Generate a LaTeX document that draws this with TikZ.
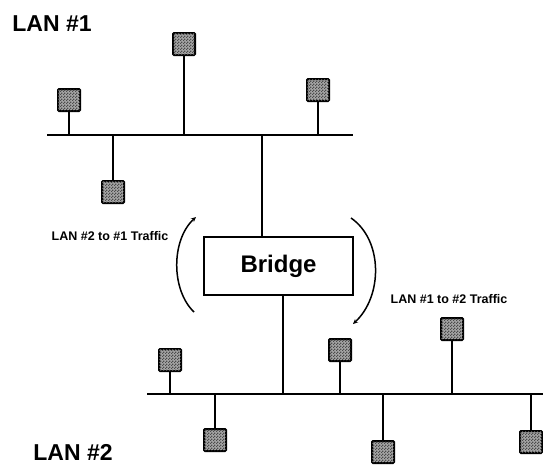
\documentclass[tikz,border=0pt]{standalone}
\usepackage{fontspec}
\setmainfont{Liberation Sans}
\usetikzlibrary{arrows.meta,patterns}
\pgfdeclarepatternformonly{finecheck}{\pgfpointorigin}{\pgfqpoint{3pt}{3pt}}{\pgfqpoint{3pt}{3pt}}{%
  \pgfpathrectangle{\pgfpointorigin}{\pgfqpoint{1.5pt}{1.5pt}}%
  \pgfpathrectangle{\pgfqpoint{1.5pt}{1.5pt}}{\pgfqpoint{1.5pt}{1.5pt}}%
  \pgfusepath{fill}}
\begin{document}
\begin{tikzpicture}[x=1pt,y=-1pt,
  station/.style={draw=black,line width=2pt,fill=black!35,postaction={pattern=finecheck,pattern color=black!70},
    minimum width=22pt,minimum height=22pt,inner sep=0pt,rounded corners=1pt},
  wire/.style={line width=1.4pt},
  bigtext/.style={font=\fontsize{23}{26}\selectfont\bfseries,inner sep=0pt},
  smalltext/.style={font=\fontsize{12.5}{14}\selectfont\bfseries,inner sep=0pt},
  flow/.style={line width=1.5pt,-{Stealth[length=5pt,width=4.5pt]}}]
\useasboundingbox (0,0) rectangle (543,464);
% labels
\node[bigtext] (lan1) at (52,24) {LAN \#1};
\node[bigtext] (lan2) at (73,452) {LAN \#2};
\node[smalltext] (t21) at (110,236) {LAN \#2 to \#1 Traffic};
\node[smalltext] (t12) at (449,299) {LAN \#1 to \#2 Traffic};
% bus coordinates
\coordinate (b1L) at (47,135);
\coordinate (b1R) at (353,135);
\coordinate (b2L) at (147,394);
\coordinate (b2R) at (543,394);
\draw[wire] (b1L) -- (b1R);
\draw[wire] (b2L) -- (b2R);
% bridge
\node[draw,line width=1.4pt,minimum width=149pt,minimum height=58pt,inner sep=0pt,
  font=\fontsize{24}{26}\selectfont\bfseries] (bridge) at (278.5,266) {Bridge};
\coordinate (tap1) at (262,135);
\coordinate (tap2) at (283,394);
\draw[wire] (tap1) -- (tap1 |- bridge.north);
\draw[wire] (tap2 |- bridge.south) -- (tap2);
% LAN 1 stations
\node[station] (s1) at (69,100) {};
\node[station] (s2) at (184,44) {};
\node[station] (s3) at (318,90) {};
\node[station] (s4) at (113,192) {};
\foreach \s in {s1,s2,s3} \draw[wire] (\s.south) -- (\s.south |- b1L);
\draw[wire] (s4.north) -- (s4.north |- b1L);
% LAN 2 stations
\node[station] (sa) at (170,360) {};
\node[station] (sc) at (340,350) {};
\node[station] (se) at (452,329) {};
\node[station] (sb) at (215,440) {};
\node[station] (sd) at (383,452) {};
\node[station] (sf) at (531,442) {};
\foreach \s in {sa,sc,se} \draw[wire] (\s.south) -- (\s.south |- b2L);
\foreach \s in {sb,sd,sf} \draw[wire] (\s.north) -- (\s.north |- b2L);
% traffic arcs
\coordinate (l0) at (194,312);
\coordinate (l1) at (196,217);
\coordinate (r0) at (351,218);
\coordinate (r1) at (353,324);
\draw[flow] (l0) .. controls (171,290) and (171,240) .. (l1);
\draw[flow] (r0) .. controls (383,240) and (383,296) .. (r1);
\end{tikzpicture}
\end{document}
